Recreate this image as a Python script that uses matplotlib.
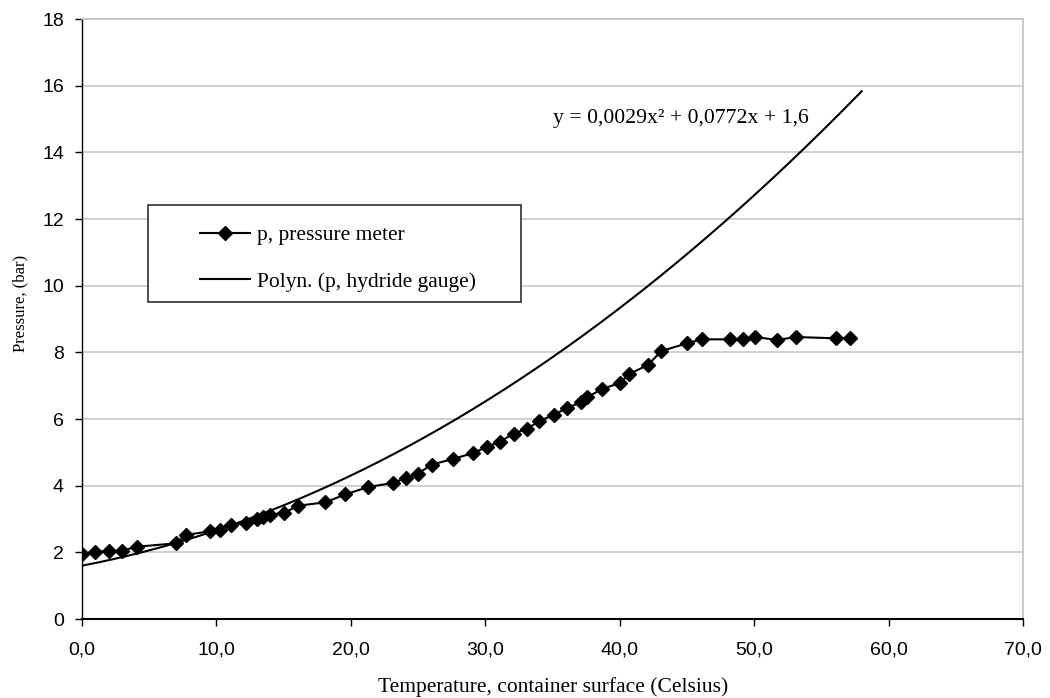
import numpy as np
import matplotlib
matplotlib.use("Agg")
import matplotlib.pyplot as plt
from matplotlib.patches import Rectangle

# ---- data ----
temp_meter = [0.0, 1.0, 2.0, 3.0, 4.1, 7.0, 7.7, 9.5, 10.3, 11.1, 12.2, 13.0, 13.5, 14.0,
              15.0, 16.1, 18.1, 19.6, 21.3, 23.1, 24.1, 25.0, 26.0, 27.6, 29.1, 30.1,
              31.1, 32.1, 33.1, 34.0, 35.1, 36.1, 37.1, 37.6, 38.7, 40.0, 40.7, 42.1,
              43.1, 45.0, 46.1, 48.2, 49.2, 50.1, 51.7, 53.1, 56.1, 57.1]
p_meter = [1.95, 2.0, 2.05, 2.05, 2.17, 2.27, 2.52, 2.63, 2.68, 2.83, 2.88, 3.0, 3.06, 3.13,
           3.18, 3.4, 3.5, 3.74, 3.96, 4.08, 4.23, 4.36, 4.63, 4.8, 4.98, 5.16,
           5.32, 5.56, 5.71, 5.93, 6.13, 6.33, 6.5, 6.66, 6.9, 7.08, 7.35, 7.62,
           8.04, 8.27, 8.39, 8.39, 8.39, 8.46, 8.37, 8.46, 8.42, 8.42]

# polynomial trendline of "p, hydride gauge" (coefficients from chart label)
trend_coeffs = [0.0029, 0.0772, 1.6]
trend_range = [0.0, 58.0]

x_ticks = [0, 10, 20, 30, 40, 50, 60, 70]
x_ticklabels = ["0,0", "10,0", "20,0", "30,0", "40,0", "50,0", "60,0", "70,0"]
y_ticks = [0, 2, 4, 6, 8, 10, 12, 14, 16, 18]
y_ticklabels = ["0", "2", "4", "6", "8", "10", "12", "14", "16", "18"]

label_meter = "p, pressure meter"
label_trend = "Polyn. (p, hydride gauge)"
equation = "y = 0,0029x² + 0,0772x + 1,6"
xlabel = "Temperature, container surface (Celsius)"
ylabel = "Pressure, (bar)"

# ---- figure ----
serif = ["Liberation Serif", "DejaVu Serif"]
sans = ["Liberation Sans", "DejaVu Sans"]

fig = plt.figure(figsize=(10.5, 6.98), dpi=100)
ax = fig.add_axes([82 / 1050, 1 - 619 / 698, (1023 - 82) / 1050, (619 - 19) / 698])

trend_x = np.linspace(trend_range[0], trend_range[1], 300)
trend_y = np.polyval(trend_coeffs, trend_x)
l_trend, = ax.plot(trend_x, trend_y, color="black", lw=1.5, zorder=3)
l_meter, = ax.plot(temp_meter, p_meter, color="black", lw=1.5, marker="D",
                   markersize=7.0, markerfacecolor="black", markeredgecolor="black",
                   zorder=4)

ax.set_xlim(0, 70)
ax.set_ylim(0, 18)
ax.set_xticks(x_ticks)
ax.set_xticklabels(x_ticklabels, family=sans, fontsize=14)
ax.set_yticks(y_ticks)
ax.set_yticklabels(y_ticklabels, family=sans, fontsize=14)
ax.tick_params(axis="x", direction="out", length=5, width=1, pad=11, color="black")
ax.tick_params(axis="y", direction="out", length=5, width=1, pad=8, color="black")

ax.yaxis.grid(True, color="#c8c8c8", lw=1.2)
ax.set_axisbelow(True)
for s in ["top", "right"]:
    ax.spines[s].set_color("#c0c0c0")
    ax.spines[s].set_linewidth(1.2)
ax.spines["left"].set_color("black")
ax.spines["left"].set_linewidth(1.0)
ax.spines["bottom"].set_color("black")
ax.spines["bottom"].set_linewidth(1.5)

# legend frame + legend
ax_w = 1023 - 82
ax_h = 619 - 19
fx0 = (148 - 82) / ax_w
fy0 = (619 - 302) / ax_h
fw = (521 - 148) / ax_w
fh = (302 - 205) / ax_h
ax.add_patch(Rectangle((fx0, fy0), fw, fh, transform=ax.transAxes,
                       facecolor="white", edgecolor="#303030", lw=1.2, zorder=5))
leg = ax.legend([l_meter, l_trend], [label_meter, label_trend],
                loc="center left",
                bbox_to_anchor=((200 - 82) / ax_w, (619 - 258.5) / ax_h),
                frameon=False, borderpad=0, borderaxespad=0,
                handlelength=2.33, handletextpad=0.33, labelspacing=1.22,
                prop={"family": serif, "size": 15.5})
leg.set_zorder(6)

ax.text((553 - 82) / ax_w, (619 - 118) / ax_h, equation, transform=ax.transAxes,
        ha="left", va="center", family=serif, fontsize=15.7)

fig.text(553 / 1050, 1 - 692 / 698, xlabel, ha="center", va="baseline",
         family=serif, fontsize=15.5)
fig.text(20 / 1050, 1 - 303 / 698, ylabel, ha="center", va="center",
         rotation=90, family=serif, fontsize=12)

fig.savefig("out.png", dpi=100, facecolor="white")
